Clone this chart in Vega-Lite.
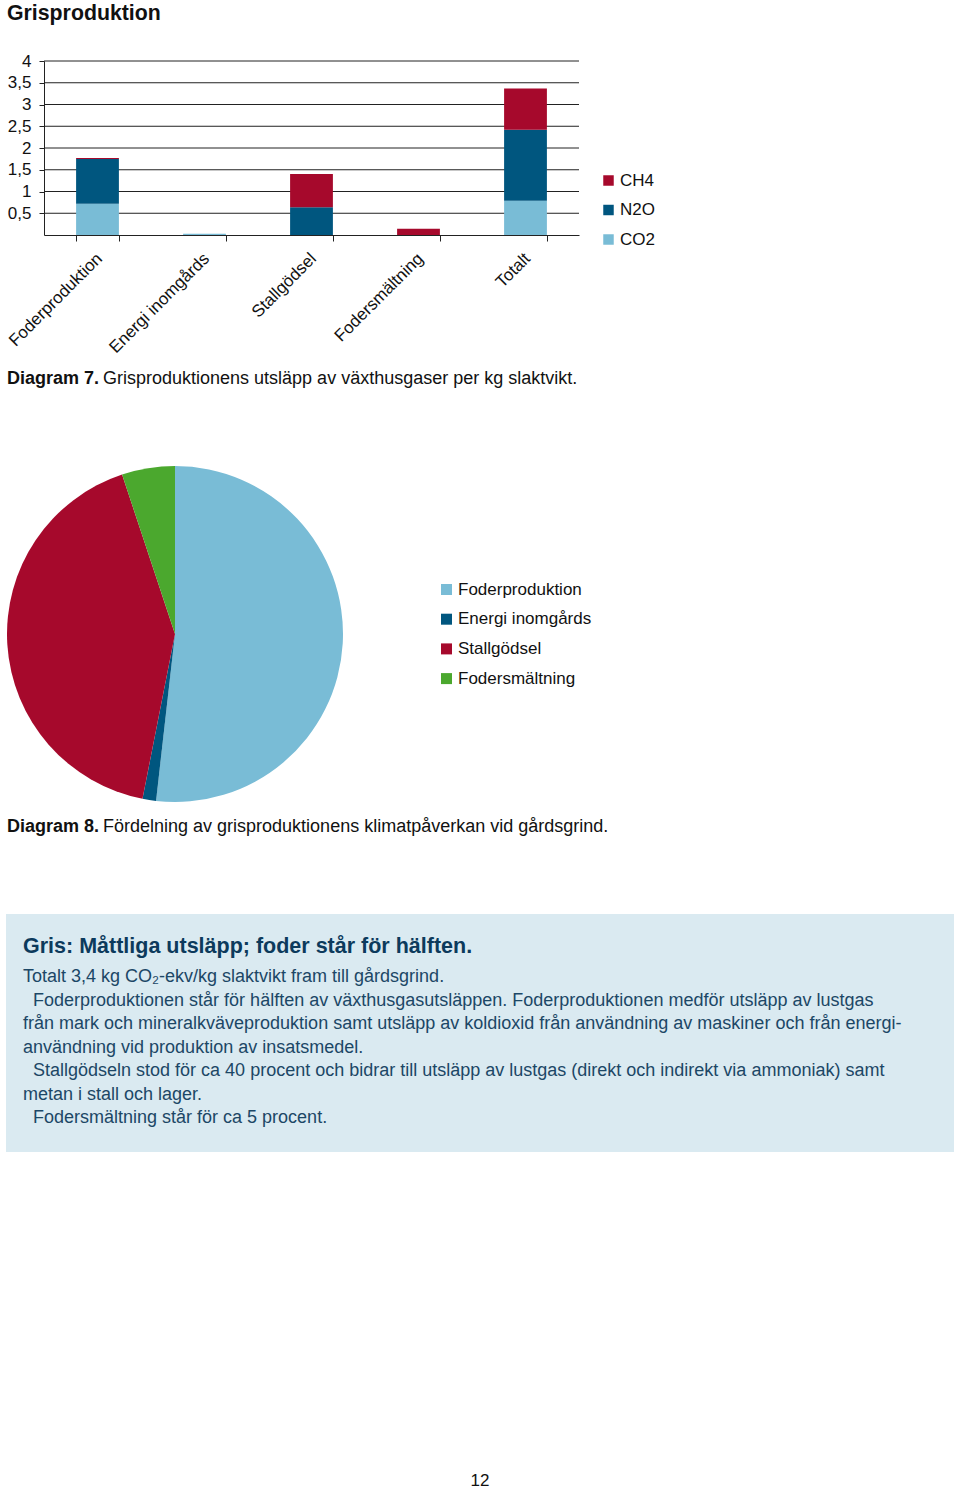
{
  "$schema": "https://vega.github.io/schema/vega-lite/v6.json",
  "padding": {"left": 5, "top": 0, "right": 0, "bottom": 0},
  "background": "white",
  "spacing": 0,
  "bounds": "flush",
  "config": {"font": "Liberation Sans", "view": {"stroke": null}},
  "resolve": {"scale": {"color": "independent", "x": "independent", "y": "independent", "theta": "independent"}, "legend": {"color": "independent"}},
  "vconcat": [
    {
      "width": 948, "height": 61,
      "data": {"values": [{"rubrik": "Grisproduktion"}]},
      "mark": {"type": "text", "x": 1, "y": 19.5, "align": "left", "baseline": "alphabetic", "fontSize": 21.3, "fontWeight": "bold", "color": "#111111"},
      "encoding": {"text": {"field": "rubrik"}}
    },
    {
      "width": 573, "height": 174,
      "layer": [
        {
          "data": {"values": [{"niva": 0.5}, {"niva": 1}, {"niva": 1.5}, {"niva": 2}, {"niva": 2.5}, {"niva": 3}, {"niva": 3.5}, {"niva": 4}]},
          "mark": {"type": "rule", "color": "#222222", "strokeWidth": 1},
          "encoding": {
            "y": {"field": "niva", "type": "quantitative", "scale": {"domain": [0, 4], "nice": false},
              "axis": {"title": null, "offset": -38, "values": [0.5, 1, 1.5, 2, 2.5, 3, 3.5, 4], "labelExpr": "replace(toString(datum.value), '.', ',')", "grid": false, "tickColor": "#222222", "tickSize": 5, "domainColor": "#222222", "labelFontSize": 17, "labelColor": "#111111", "labelPadding": 8}},
            "x": {"datum": 0, "type": "quantitative", "scale": {"domain": [0, 1], "range": [38, 573]}, "axis": null},
            "x2": {"datum": 1}
          }
        },
        {
          "data": {"values": [
            {"kategori": "Foderproduktion", "gas": "CO2", "ord": 1, "varde": 0.72},
            {"kategori": "Foderproduktion", "gas": "N2O", "ord": 2, "varde": 1.03},
            {"kategori": "Foderproduktion", "gas": "CH4", "ord": 3, "varde": 0.02},
            {"kategori": "Energi inomgårds", "gas": "CO2", "ord": 1, "varde": 0.03},
            {"kategori": "Stallgödsel", "gas": "N2O", "ord": 2, "varde": 0.64},
            {"kategori": "Stallgödsel", "gas": "CH4", "ord": 3, "varde": 0.76},
            {"kategori": "Fodersmältning", "gas": "CH4", "ord": 3, "varde": 0.145},
            {"kategori": "Totalt", "gas": "CO2", "ord": 1, "varde": 0.79},
            {"kategori": "Totalt", "gas": "N2O", "ord": 2, "varde": 1.63},
            {"kategori": "Totalt", "gas": "CH4", "ord": 3, "varde": 0.95}
          ]},
          "mark": {"type": "bar"},
          "encoding": {
            "x": {
              "field": "kategori", "type": "nominal", "sort": null,
              "scale": {"range": [38, 573], "paddingInner": 0.6, "paddingOuter": 0.3},
              "axis": {"title": null, "labelAngle": -45, "labelAlign": "right", "labelBaseline": "top", "labelFontSize": 17, "labelColor": "#111111", "labelOffset": -4, "tickBand": "extent", "tickSize": 6, "tickColor": "#222222", "domainColor": "#222222", "labelPadding": 9, "grid": false}
            },
            "y": {
              "field": "varde", "type": "quantitative", "stack": "zero",
              "scale": {"domain": [0, 4], "nice": false},
              "axis": {"title": null, "offset": -38, "values": [0.5, 1, 1.5, 2, 2.5, 3, 3.5, 4], "labelExpr": "replace(toString(datum.value), '.', ',')", "grid": false, "tickColor": "#222222", "tickSize": 5, "domainColor": "#222222", "labelFontSize": 17, "labelColor": "#111111", "labelPadding": 8}
            },
            "color": {
              "field": "gas", "type": "nominal",
              "scale": {"domain": ["CH4", "N2O", "CO2"], "range": ["#A6092C", "#00567F", "#79BCD6"]},
              "legend": {"title": null, "orient": "none", "legendX": 594, "legendY": 111, "symbolType": "square", "symbolSize": 110, "labelFontSize": 17, "labelColor": "#111111", "rowPadding": 11.5, "labelOffset": 3, "padding": 0}
            },
            "order": {"field": "ord", "type": "quantitative"}
          }
        }
      ],
      "resolve": {"scale": {"x": "independent"}}
    },
    {
      "width": 948, "height": 231,
      "data": {"values": [{"fet": "Diagram 7.", "text": "Grisproduktionens utsläpp av växthusgaser per kg slaktvikt."}]},
      "layer": [
        {"mark": {"type": "text", "x": 1, "y": 148.5, "align": "left", "baseline": "alphabetic", "fontSize": 18, "fontWeight": "bold", "color": "#111111"}, "encoding": {"text": {"field": "fet"}}},
        {"mark": {"type": "text", "x": 97, "y": 148.5, "align": "left", "baseline": "alphabetic", "fontSize": 18, "color": "#111111"}, "encoding": {"text": {"field": "text"}}}
      ]
    },
    {
      "width": 338, "height": 336,
      "data": {"values": [
        {"kalla": "Foderproduktion", "ord": 1, "andel": 51.8},
        {"kalla": "Energi inomgårds", "ord": 2, "andel": 1.3},
        {"kalla": "Stallgödsel", "ord": 3, "andel": 41.8},
        {"kalla": "Fodersmältning", "ord": 4, "andel": 5.1}
      ]},
      "mark": {"type": "arc"},
      "encoding": {
        "theta": {"field": "andel", "type": "quantitative", "stack": true},
        "color": {
          "field": "kalla", "type": "nominal",
          "scale": {"domain": ["Foderproduktion", "Energi inomgårds", "Stallgödsel", "Fodersmältning"], "range": ["#79BCD6", "#00567F", "#A6092C", "#4BA82E"]},
          "legend": {"title": null, "orient": "none", "legendX": 432, "legendY": 115, "symbolType": "square", "symbolSize": 121, "labelFontSize": 17, "labelColor": "#111111", "rowPadding": 11.7, "labelOffset": 3, "padding": 0}
        },
        "order": {"field": "ord", "type": "quantitative"}
      }
    },
    {
      "width": 948, "height": 112,
      "data": {"values": [{"fet": "Diagram 8.", "text": "Fördelning av grisproduktionens klimatpåverkan vid gårdsgrind."}]},
      "layer": [
        {"mark": {"type": "text", "x": 1, "y": 29.5, "align": "left", "baseline": "alphabetic", "fontSize": 18, "fontWeight": "bold", "color": "#111111"}, "encoding": {"text": {"field": "fet"}}},
        {"mark": {"type": "text", "x": 97, "y": 29.5, "align": "left", "baseline": "alphabetic", "fontSize": 18, "color": "#111111"}, "encoding": {"text": {"field": "text"}}}
      ]
    },
    {
      "width": 948, "height": 238,
      "view": {"fill": "#DAEAF1", "stroke": null},
      "layer": [
        {
          "data": {"values": [{"rubrik": "Gris: Måttliga utsläpp; foder står för hälften."}]},
          "mark": {"type": "text", "x": 17, "y": 38.5, "align": "left", "baseline": "alphabetic", "fontSize": 21.5, "fontWeight": "bold", "color": "#0C3A5C"},
          "encoding": {"text": {"field": "rubrik"}}
        },
        {
          "data": {"values": [
            {"rad": 1, "text": "Totalt 3,4 kg CO₂-ekv/kg slaktvikt fram till gårdsgrind."},
            {"rad": 2, "text": "\u200b\u00a0\u00a0Foderproduktionen står för hälften av växthusgasutsläppen. Foderproduktionen medför utsläpp av lustgas"},
            {"rad": 3, "text": "från mark och mineralkväveproduktion samt utsläpp av koldioxid från användning av maskiner och från energi-"},
            {"rad": 4, "text": "användning vid produktion av insatsmedel."},
            {"rad": 5, "text": "\u200b\u00a0\u00a0Stallgödseln stod för ca 40 procent och bidrar till utsläpp av lustgas (direkt och indirekt via ammoniak) samt"},
            {"rad": 6, "text": "metan i stall och lager."},
            {"rad": 7, "text": "\u200b\u00a0\u00a0Fodersmältning står för ca 5 procent."}
          ]},
          "mark": {"type": "text", "x": 17, "align": "left", "baseline": "alphabetic", "fontSize": 18, "color": "#1C4766"},
          "encoding": {
            "y": {"field": "rad", "type": "ordinal", "scale": {"type": "point", "range": [68.4, 209.4], "padding": 0}, "axis": null},
            "text": {"field": "text"}
          }
        }
      ]
    },
    {
      "width": 948, "height": 336,
      "data": {"values": [{"sida": "12"}]},
      "mark": {"type": "text", "x": 474, "y": 334, "align": "center", "baseline": "alphabetic", "fontSize": 17, "color": "#111111"},
      "encoding": {"text": {"field": "sida"}}
    }
  ]
}
